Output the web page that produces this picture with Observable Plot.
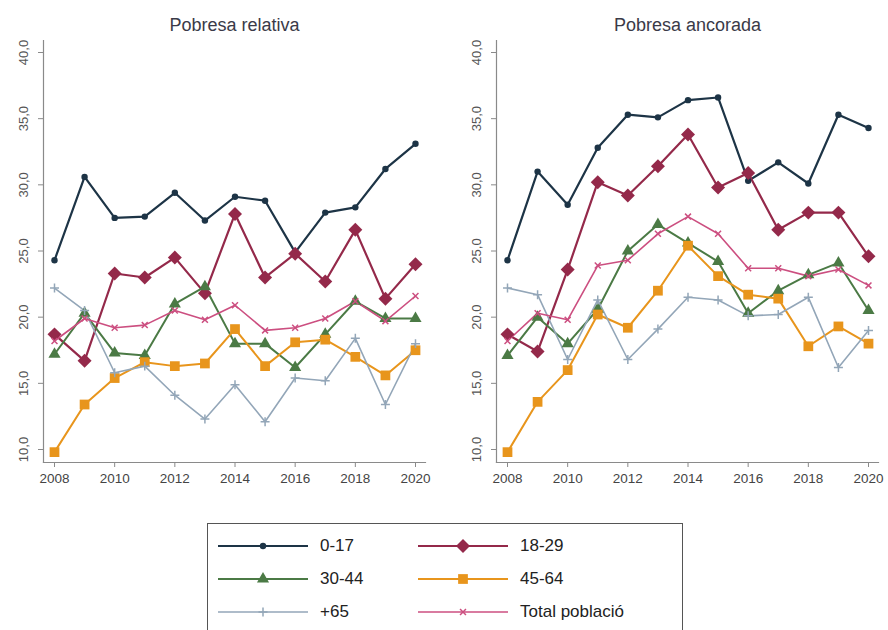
<!DOCTYPE html>
<html>
<head>
<meta charset="utf-8">
<script src="https://cdn.jsdelivr.net/npm/d3@7"></script>
<script src="https://cdn.jsdelivr.net/npm/@observablehq/plot@0.6"></script>
<style>
  body { margin: 0; background: #fff; font-family: "Liberation Sans", Arial, sans-serif; }
  #row { display: flex; width: 888px; }
  #legend { position: absolute; left: 207px; top: 523px; width: 476px; height: 118px;
            border: 1.5px solid #555; box-sizing: border-box; }
  .item { position: absolute; display: flex; align-items: center; font-size: 17px; color: #222; }
  .item svg { margin-right: 12px; }
</style>
</head>
<body>
<div id="row"></div>
<div id="legend"></div>
<script>
// ---- data ----
const years = [2008, 2009, 2010, 2011, 2012, 2013, 2014, 2015, 2016, 2017, 2018, 2019, 2020];
const groups = ["0-17", "18-29", "30-44", "45-64", "+65", "Total població"];
const titles = ["Pobresa relativa", "Pobresa ancorada"];
const yTicks = [10, 15, 20, 25, 30, 35, 40];
const xTicks = [2008, 2010, 2012, 2014, 2016, 2018, 2020];

// Pobresa relativa
const rel_0_17  = [24.3, 30.6, 27.5, 27.6, 29.4, 27.3, 29.1, 28.8, 24.9, 27.9, 28.3, 31.2, 33.1];
const rel_18_29 = [18.7, 16.7, 23.3, 23.0, 24.5, 21.8, 27.8, 23.0, 24.8, 22.7, 26.6, 21.4, 24.0];
const rel_30_44 = [17.2, 20.3, 17.3, 17.1, 21.0, 22.3, 18.0, 18.0, 16.2, 18.7, 21.2, 19.9, 19.9];
const rel_45_64 = [9.8, 13.4, 15.4, 16.6, 16.3, 16.5, 19.1, 16.3, 18.1, 18.3, 17.0, 15.6, 17.5];
const rel_65    = [22.2, 20.5, 15.8, 16.3, 14.1, 12.3, 14.9, 12.1, 15.4, 15.2, 18.4, 13.4, 18.0];
const rel_total = [18.2, 19.9, 19.2, 19.4, 20.5, 19.8, 20.9, 19.0, 19.2, 19.9, 21.2, 19.7, 21.6];

// Pobresa ancorada
const anc_0_17  = [24.3, 31.0, 28.5, 32.8, 35.3, 35.1, 36.4, 36.6, 30.3, 31.7, 30.1, 35.3, 34.3];
const anc_18_29 = [18.7, 17.4, 23.6, 30.2, 29.2, 31.4, 33.8, 29.8, 30.9, 26.6, 27.9, 27.9, 24.6];
const anc_30_44 = [17.1, 20.0, 18.0, 20.6, 25.0, 27.0, 25.6, 24.2, 20.3, 22.0, 23.2, 24.1, 20.5];
const anc_45_64 = [9.8, 13.6, 16.0, 20.2, 19.2, 22.0, 25.4, 23.1, 21.7, 21.4, 17.8, 19.3, 18.0];
const anc_65    = [22.2, 21.7, 16.8, 21.3, 16.8, 19.1, 21.5, 21.3, 20.1, 20.2, 21.5, 16.2, 19.0];
const anc_total = [18.2, 20.3, 19.8, 23.9, 24.3, 26.3, 27.6, 26.3, 23.7, 23.7, 23.1, 23.6, 22.4];

// ---- styles ----
const colors  = ["#1d3446", "#94294a", "#4b7a45", "#e8951c", "#93a6b8", "#cc4f80"];
const symbols = ["circle", "diamond2", "triangle", "square", "plus", "times"];
const radii   = [3.2, 6.3, 4.5, 5.5, 3, 2.8];
const widths  = [2.2, 2.2, 2, 2, 1.6, 1.6];
const filled  = [true, true, true, true, false, false];

const panels = [
  [rel_0_17, rel_18_29, rel_30_44, rel_45_64, rel_65, rel_total],
  [anc_0_17, anc_18_29, anc_30_44, anc_45_64, anc_65, anc_total]
];
const layout = [{marginLeft: 43, marginRight: 19}, {marginLeft: 52, marginRight: 10}];

const fmt = d => d.toFixed(1).replace(".", ",");

panels.forEach((series, p) => {
  const rows = series.map((vals, i) => years.map((y, j) => ({year: y, value: vals[j], group: groups[i]})));
  const marks = [
    Plot.frame({anchor: "left", stroke: "#8a8a8a", strokeWidth: 1.2}),
    Plot.frame({anchor: "bottom", stroke: "#8a8a8a", strokeWidth: 1.2}),
    Plot.axisX({ticks: xTicks, tickFormat: d => String(d), tickSize: 5, tickPadding: 6,
                stroke: "#8a8a8a", color: "#444", fontSize: 13.5, label: null}),
    Plot.axisY({ticks: yTicks, tickFormat: fmt, tickSize: 5, tickPadding: 11, tickRotate: -90,
                textAnchor: "middle", lineAnchor: "bottom",
                stroke: "#8a8a8a", color: "#555", fontSize: 13, label: null}),
  ];
  rows.forEach((r, i) => {
    marks.push(Plot.line(r, {x: "year", y: "value", stroke: colors[i], strokeWidth: widths[i]}));
  });
  rows.forEach((r, i) => {
    const opts = {x: "year", y: "value", symbol: symbols[i], r: radii[i]};
    if (filled[i]) { opts.fill = colors[i]; opts.stroke = "none"; }
    else { opts.stroke = colors[i]; opts.strokeWidth = 1.5; opts.fill = "none"; }
    marks.push(Plot.dot(r, opts));
  });
  marks.push(Plot.text([titles[p]], {frameAnchor: "top", dy: -22, fontSize: 18, fill: "#3a3a48"}));

  const chart = Plot.plot({
    width: 444, height: 495,
    marginLeft: layout[p].marginLeft, marginRight: layout[p].marginRight,
    marginTop: 40, marginBottom: 33,
    insetLeft: 11, insetRight: 10, insetTop: 12, insetBottom: 13,
    style: {fontFamily: "Liberation Sans, Arial, sans-serif", background: "#fff"},
    x: {domain: [2008, 2020]},
    y: {domain: [10, 40]},
    marks
  });
  document.getElementById("row").appendChild(chart);
});

// ---- legend ----
const legend = document.getElementById("legend");
const pos = [[10, 10], [210, 10], [10, 43], [210, 43], [10, 76], [210, 76]];
const symMap = {circle: d3.symbolCircle, diamond2: d3.symbolDiamond2, triangle: d3.symbolTriangle,
                square: d3.symbolSquare, plus: d3.symbolPlus, times: d3.symbolTimes};
groups.forEach((g, i) => {
  const div = document.createElement("div");
  div.className = "item";
  div.style.left = pos[i][0] + "px";
  div.style.top = pos[i][1] + "px";
  const svg = d3.create("svg").attr("width", 90).attr("height", 24);
  svg.append("line").attr("x1", 0).attr("x2", 90).attr("y1", 12).attr("y2", 12)
     .attr("stroke", colors[i]).attr("stroke-width", widths[i]);
  const size = Math.PI * radii[i] * radii[i];
  const path = svg.append("path").attr("transform", "translate(45,12)")
     .attr("d", d3.symbol(symMap[symbols[i]], size)());
  if (filled[i]) path.attr("fill", colors[i]);
  else path.attr("fill", "none").attr("stroke", colors[i]).attr("stroke-width", 1.5);
  div.appendChild(svg.node());
  const span = document.createElement("span");
  span.textContent = g;
  div.appendChild(span);
  legend.appendChild(div);
});
</script>
</body>
</html>
